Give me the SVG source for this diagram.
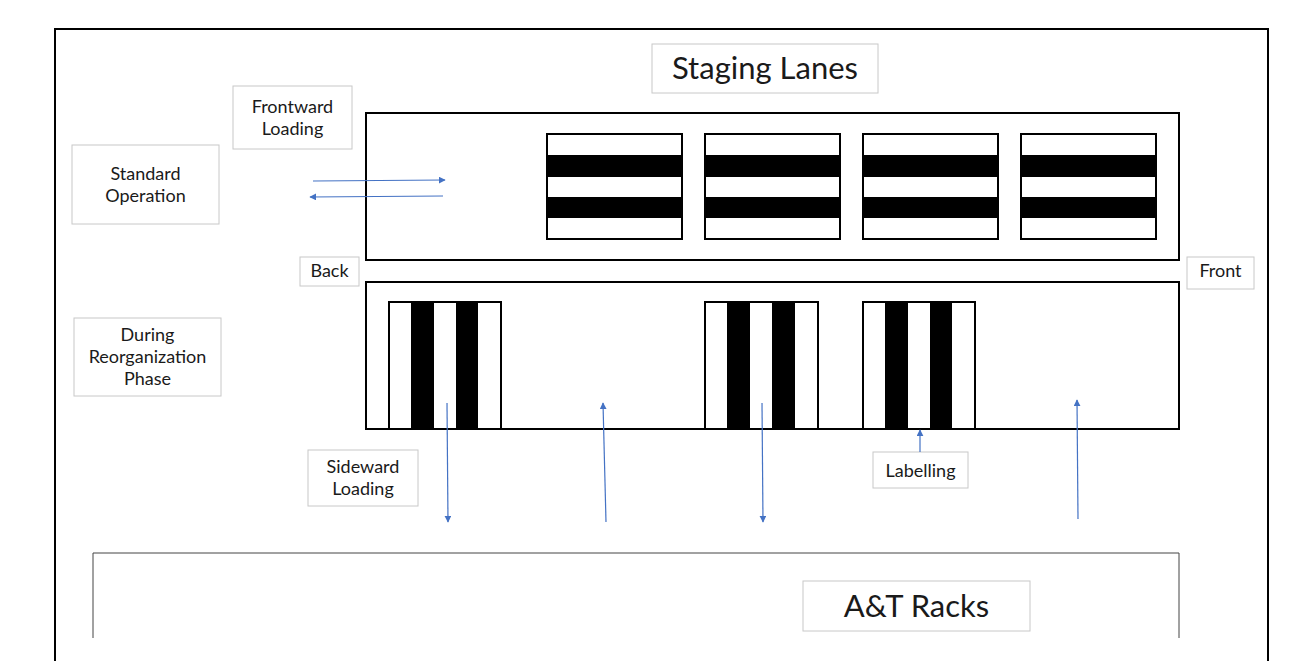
<svg xmlns="http://www.w3.org/2000/svg" width="1303" height="661" viewBox="0 0 1303 661">
<defs>
<style>
.lbl{fill:#fff;stroke:#c8c8c8;stroke-width:1}
.t{font-family:Lato,"Open Sans","Liberation Sans",sans-serif;fill:#1a1a1a;text-anchor:middle}
.s{font-size:18px}
.big{font-size:31px}
.lane{fill:#fff;stroke:#000;stroke-width:2}
.rack{fill:#fff;stroke:#000;stroke-width:2}
.blk{fill:#000}
.arr{stroke:#4472c4;stroke-width:1.2;fill:none;marker-end:url(#ah)}
</style>
<marker id="ah" viewBox="0 0 10 10" refX="9" refY="5" markerWidth="7" markerHeight="7" orient="auto" markerUnits="userSpaceOnUse">
<path d="M0,0 L10,5 L0,10 z" fill="#4472c4"/>
</marker>
</defs>
<rect width="1303" height="661" fill="#fff"/>
<path d="M55,661 V29 H1268 V661" fill="none" stroke="#000" stroke-width="2"/>

<g id="at-racks">
<path d="M93,638 V553 H1179 V638" fill="none" stroke="#444" stroke-width="1"/>
<rect class="lbl" x="803" y="581" width="227" height="50"/>
<text class="t big" x="916.5" y="617">A&amp;T Racks</text>
</g>

<g id="staging-title">
<rect class="lbl" x="652" y="44" width="226" height="49"/>
<text class="t big" x="765" y="79">Staging Lanes</text>
</g>

<g id="upper-lane">
<rect class="lane" x="366" y="113" width="813" height="147"/>
<g id="upper-rack-1">
<rect class="rack" x="547" y="134" width="135" height="105"/>
<rect class="blk" x="547" y="155" width="135" height="22"/>
<rect class="blk" x="547" y="197" width="135" height="21"/>
</g>
<g id="upper-rack-2">
<rect class="rack" x="705" y="134" width="135" height="105"/>
<rect class="blk" x="705" y="155" width="135" height="22"/>
<rect class="blk" x="705" y="197" width="135" height="21"/>
</g>
<g id="upper-rack-3">
<rect class="rack" x="863" y="134" width="135" height="105"/>
<rect class="blk" x="863" y="155" width="135" height="22"/>
<rect class="blk" x="863" y="197" width="135" height="21"/>
</g>
<g id="upper-rack-4">
<rect class="rack" x="1021" y="134" width="135" height="105"/>
<rect class="blk" x="1021" y="155" width="135" height="22"/>
<rect class="blk" x="1021" y="197" width="135" height="21"/>
</g>
</g>

<g id="lower-lane">
<rect class="lane" x="366" y="282" width="813" height="147"/>
<g id="lower-rack-1">
<rect class="rack" x="389" y="302" width="112" height="127"/>
<rect class="blk" x="411" y="302" width="23" height="127"/>
<rect class="blk" x="456" y="302" width="22" height="127"/>
</g>
<g id="lower-rack-2">
<rect class="rack" x="705" y="302" width="113" height="127"/>
<rect class="blk" x="727" y="302" width="23" height="127"/>
<rect class="blk" x="772" y="302" width="23" height="127"/>
</g>
<g id="lower-rack-3">
<rect class="rack" x="863" y="302" width="112" height="127"/>
<rect class="blk" x="885" y="302" width="23" height="127"/>
<rect class="blk" x="930" y="302" width="22" height="127"/>
</g>
</g>

<g id="frontward-loading">
<rect class="lbl" x="233" y="86" width="119" height="63"/>
<text class="t s" x="292.5" y="113">Frontward</text>
<text class="t s" x="292.5" y="135">Loading</text>
</g>
<g id="standard-operation">
<rect class="lbl" x="72" y="145" width="147" height="79"/>
<text class="t s" x="145.5" y="180">Standard</text>
<text class="t s" x="145.5" y="202">Operation</text>
</g>
<g id="back">
<rect class="lbl" x="300" y="257" width="59" height="29"/>
<text class="t s" x="329.5" y="277">Back</text>
</g>
<g id="front">
<rect class="lbl" x="1187" y="257" width="67" height="32"/>
<text class="t s" x="1220.5" y="277">Front</text>
</g>
<g id="during-reorganization">
<rect class="lbl" x="74" y="318" width="147" height="78"/>
<text class="t s" x="147.5" y="341">During</text>
<text class="t s" x="147.5" y="363">Reorganization</text>
<text class="t s" x="147.5" y="385">Phase</text>
</g>
<g id="sideward-loading">
<rect class="lbl" x="308" y="450" width="110" height="56"/>
<text class="t s" x="363" y="473">Sideward</text>
<text class="t s" x="363" y="495">Loading</text>
</g>
<g id="labelling">
<rect class="lbl" x="873" y="452" width="95" height="36"/>
<text class="t s" x="920.5" y="477">Labelling</text>
</g>

<g id="connectors">
<line class="arr" x1="313" y1="181" x2="445" y2="180"/>
<line class="arr" x1="443" y1="196" x2="310" y2="197"/>
<line class="arr" x1="447" y1="403" x2="448" y2="522"/>
<line class="arr" x1="606" y1="522" x2="603" y2="403"/>
<line class="arr" x1="762" y1="403" x2="763" y2="522"/>
<line class="arr" x1="1078" y1="519" x2="1077" y2="400"/>
<line class="arr" x1="920" y1="452" x2="920" y2="430"/>
</g>
</svg>
